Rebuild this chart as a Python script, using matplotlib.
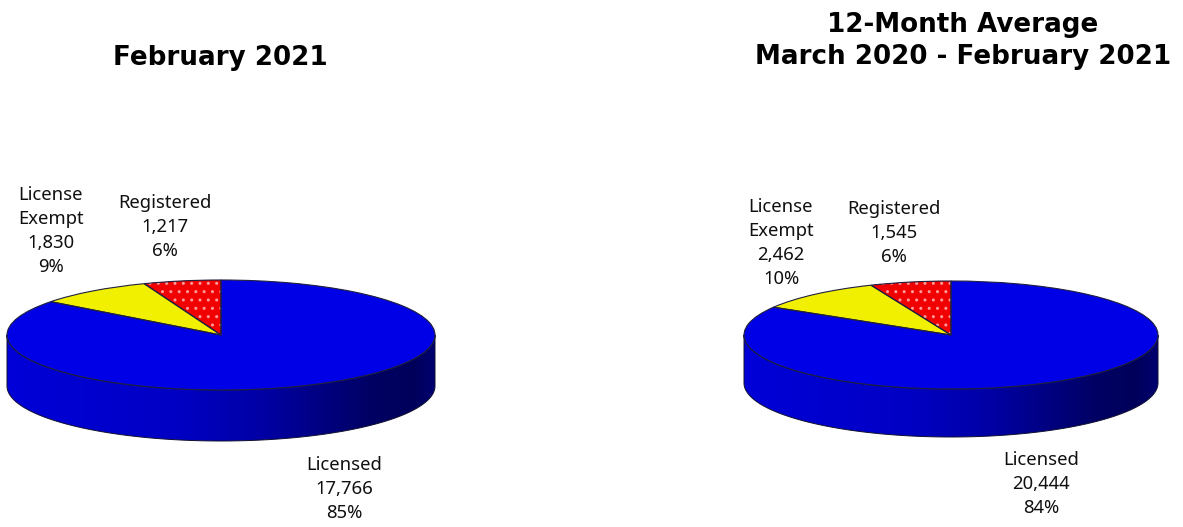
import numpy as np
import matplotlib
matplotlib.use("Agg")
import matplotlib.pyplot as plt
from matplotlib.colors import LinearSegmentedColormap
from matplotlib.patches import Polygon

W, H = 1183, 527
categories = ["Registered", "License\nExempt", "Licensed"]
feb_values = [1217, 1830, 17766]
feb_percent = [6, 9, 85]
avg_values = [1545, 2462, 20444]
avg_percent = [6, 10, 84]
titles = ["February 2021", "12-Month Average\nMarch 2020 - February 2021"]

colors = ["#F00000", "#F0F000", "#0000E6"]
LABEL_FONT = "Noto Sans"
TITLE_FONT = "DejaVu Sans"

fig = plt.figure(figsize=(W / 100, H / 100), dpi=100, facecolor="white")
wall_cmap = LinearSegmentedColormap.from_list(
    "wall", [(0, "#0000D8"), (0.4, "#0000C4"), (0.6, "#0000A4"), (0.85, "#000064"), (0.95, "#00005A"), (1, "#000070")]
)


def px_text(x, y, s, **kw):
    fig.text(x / W, 1 - y / H, s, ha="center", va="center", **kw)


def draw_pie(values, percents, cx, cy, a, b, depth, label_pos, title, title_xy):
    rel = depth / b
    ax = fig.add_axes([(cx - a) / W, 1 - (cy + b + depth) / H, 2 * a / W, (2 * b + depth) / H])

    # Side wall
    t = np.linspace(np.pi, 2 * np.pi, 200)
    upper = np.column_stack([np.cos(t), np.sin(t)])
    lower = upper[::-1] - [0, rel]
    wall = Polygon(np.vstack([upper, lower]), closed=True, fc="none", ec="#101030", lw=0.7, zorder=3)
    ax.add_patch(wall)
    grad = np.linspace(0, 1, 256)[None, :]
    im = ax.imshow(grad, cmap=wall_cmap, extent=(-1, 1, -1 - rel, 1), aspect="auto", zorder=2)

    # Top face: counter-clockwise from 12 o'clock
    base = dict(startangle=90, counterclock=True)
    ax.pie(values, colors=colors, wedgeprops=dict(lw=0, zorder=4), **base)
    dots, _ = ax.pie(values, colors=colors,
                     wedgeprops=dict(lw=0, edgecolor="#FF9A9A", hatch="..", zorder=5), **base)
    for w in dots[1:]:
        w.set_visible(False)
    ax.pie(values, colors=["none"] * 3,
           wedgeprops=dict(lw=0.8, edgecolor="#202040", fill=False, zorder=6), **base)

    ax.set_aspect("auto")
    ax.set_xlim(-1, 1)
    ax.set_ylim(-1 - rel, 1)
    ax.axis("off")
    for art in ax.get_children():
        art.set_clip_on(art is im)
    im.set_clip_path(wall)

    for cat, val, pct, (lx, ly) in zip(categories, values, percents, label_pos):
        px_text(lx, ly, f"{cat}\n{val:,}\n{pct}%", fontsize=13.3, family=LABEL_FONT,
                color="#101010", linespacing=1.42)
    px_text(title_xy[0], title_xy[1], title, fontsize=18.8, family=TITLE_FONT,
            fontweight="bold", color="black", linespacing=1.3)


draw_pie(feb_values, feb_percent, 221, 335, 214, 55, 51,
         [(165, 227), (51, 231), (344, 489)], titles[0], (220, 58))
draw_pie(avg_values, avg_percent, 951, 335, 207, 54, 48,
         [(894, 233), (781, 243), (1041, 484)], titles[1], (963, 41))

fig.savefig("out.png", dpi=100)
